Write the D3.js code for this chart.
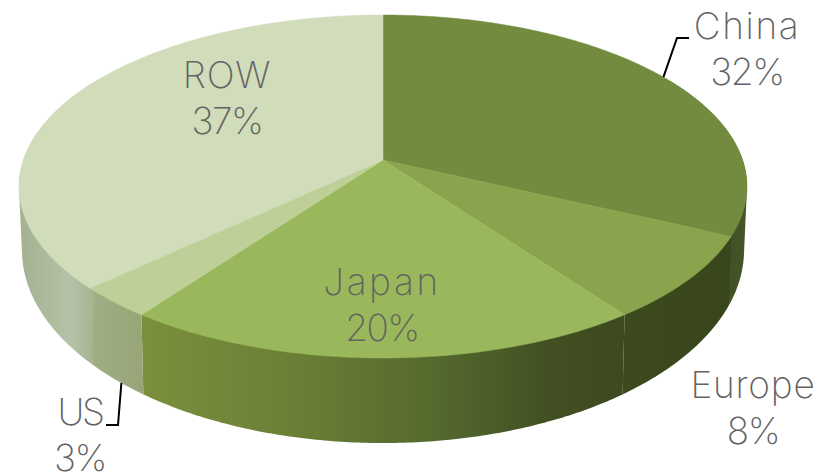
<!DOCTYPE html>
<html>
<head>
<meta charset="utf-8">
<script src="https://cdnjs.cloudflare.com/ajax/libs/d3/7.8.5/d3.min.js"></script>
<style>
  html, body { margin: 0; padding: 0; background: #fff; overflow: hidden; }
  text { font-family: Inter, sans-serif; font-weight: 250; font-size: 37px; fill: #636363; text-anchor: middle; }
</style>
</head>
<body>
<div id="chart"></div>
<script>
// chart values, clockwise from 12 o'clock
const regions = ["China", "Europe", "Japan", "US", "ROW"];
const shares = [32, 8, 20, 3, 37];

const width = 836;
const height = 473;

// colours per slice
const topColors = ["#738b3e", "#89a44c", "#99b85b", "#bed097", "#d1dcba"];
const wallStops = [
  [[0, "#3d4a1e"], [1, "#46552a"]],
  [[0, "#3c4a1e"], [1, "#39451b"]],
  [[0, "#7a903c"], [0.3, "#6b8036"], [0.6, "#556a2e"], [0.85, "#414f22"], [1, "#3d4a1f"]],
  [[0, "#a0af85"], [1, "#97a577"]],
  [[0, "#a3b191"], [0.7, "#b6c2a7"], [1, "#a8b594"]]
];

// label placement: baseline of first line, line gap is the same for all
const labelPos = [[747, 39], [753, 398], [382, 295], [80, 425], [227, 88]];
const nameSpacing = [1.6, 0.8, 2.6, -2.5, 0.8];
const lineGap = 46;

// perspective disc: u,v on unit circle are mapped to screen
const cx = 383;
const persp = 0.1545;
const topDisc = { r: 359.6, y0: 160, h: 167.4 };
const baseDisc = { r: 356.7, y0: 220.2, h: 188.4 };

function project(disc, a) {
  const u = Math.sin(a), v = -Math.cos(a), d = 1 - persp * v;
  return [cx + disc.r * u / d, disc.y0 + disc.h * v / d];
}

function arcPoints(disc, a0, a1) {
  const n = Math.max(2, Math.ceil((a1 - a0) / 0.01));
  return d3.range(n + 1).map(i => project(disc, a0 + (a1 - a0) * i / n));
}

const pie = d3.pie().sort(null).value(d => d)(shares);
const line = d3.line();

const svg = d3.select("#chart").append("svg")
  .attr("width", width)
  .attr("height", height)
  .style("display", "block");

const defs = svg.append("defs");

// side walls first, only the front half is ever seen
const wallFrom = Math.PI * 0.33;
const wallTo = Math.PI * 1.67;

pie.forEach((p, i) => {
  const a0 = Math.max(p.startAngle, wallFrom);
  const a1 = Math.min(p.endAngle, wallTo);
  const pts = arcPoints(topDisc, a0, a1).concat(arcPoints(baseDisc, a0, a1));

  // gradient runs across the visible width of the slice
  const xs = pts.filter(q => q[1] > topDisc.y0).map(q => q[0]);
  const grad = defs.append("linearGradient")
    .attr("id", "wall" + i)
    .attr("gradientUnits", "userSpaceOnUse")
    .attr("x1", d3.min(xs)).attr("x2", d3.max(xs))
    .attr("y1", 0).attr("y2", 0);
  wallStops[i].forEach(s => grad.append("stop").attr("offset", s[0]).attr("stop-color", s[1]));

  // hull gives the straight tangent edge where wall meets the rim
  svg.append("path")
    .attr("d", line(d3.polygonHull(pts)) + "Z")
    .attr("fill", `url(#wall${i})`);
});

// top faces
pie.forEach((p, i) => {
  const pts = [[cx, topDisc.y0]].concat(arcPoints(topDisc, p.startAngle, p.endAngle));
  svg.append("path")
    .attr("d", line(pts) + "Z")
    .attr("fill", topColors[i])
    .attr("stroke", topColors[i])
    .attr("stroke-width", 0.5);
});

// leader lines for China and US
function leader(start, knee, end) {
  svg.append("path")
    .attr("d", line([start, knee, end]))
    .attr("fill", "none")
    .attr("stroke", "#000")
    .attr("stroke-width", 2);
}
const along = (p, t) => p.startAngle + (p.endAngle - p.startAngle) * t;
leader(project(topDisc, along(pie[0], 0.5)), [677, 38], [689, 38]);
leader(project(baseDisc, along(pie[3], 0.4)), [118, 425], [106, 425]);

// labels
regions.forEach((name, i) => {
  const [x, y] = labelPos[i];
  svg.append("text").attr("x", x).attr("y", y)
    .style("letter-spacing", nameSpacing[i] + "px")
    .text(name);
  svg.append("text").attr("x", x).attr("y", y + lineGap)
    .style("letter-spacing", "-1.5px")
    .text(shares[i] + "%");
});
</script>
</body>
</html>
